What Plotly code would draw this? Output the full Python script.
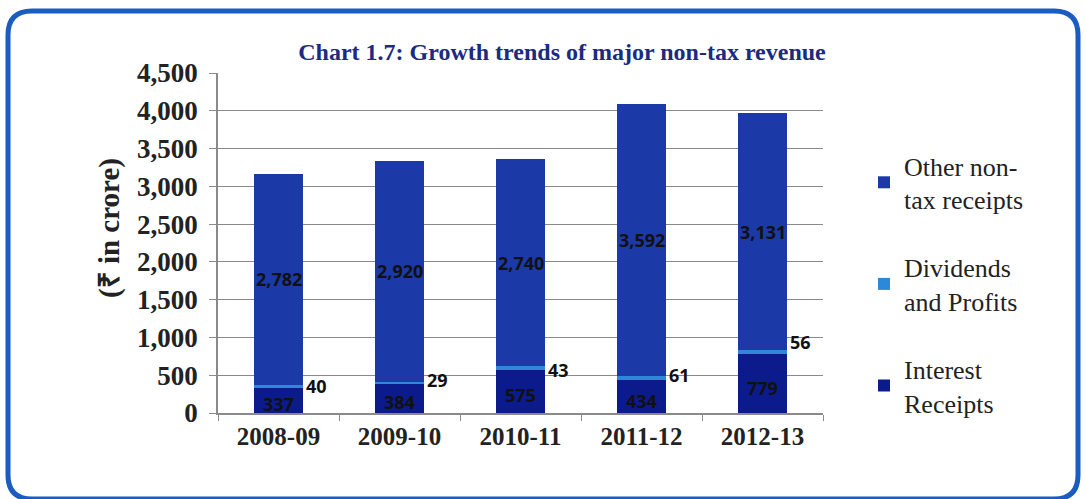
import plotly.graph_objects as go

years = ["2008-09", "2009-10", "2010-11", "2011-12", "2012-13"]
interest = [337, 384, 575, 434, 779]
dividends = [40, 29, 43, 61, 56]
other = [2782, 2920, 2740, 3592, 3131]

W, H = 1086, 499
L, R, T, B = 218, 263, 73, 86

serif = "Liberation Serif, Times New Roman, serif"
sans = "Open Sans, Lato, sans-serif"
label_font = dict(family=sans, size=18, color="#111111", weight="bold")

fig = go.Figure()

fig.add_trace(go.Bar(
    x=years, y=interest, name="Interest<br>Receipts", legendgroup="a",
    legendrank=3, marker=dict(color="#0c1b8c", line=dict(width=0)),
))
fig.add_trace(go.Bar(
    x=years, y=dividends, name="Dividends<br>and Profits", legendgroup="b",
    legendrank=2, marker=dict(color="#2d88d8", line=dict(width=0)),
))
fig.add_trace(go.Bar(
    x=years, y=other, name="Other non-<br>tax receipts", legendgroup="c",
    legendrank=1, marker=dict(color="#1b3aa8", line=dict(width=0)),
))

# value labels: centred in the interest and other segments,
# dividends just right of the bar (small nudges as in the original)
div_nudge = [0, 3, -2, 3, 10]
for k, yr in enumerate(years):
    i, d, o = interest[k], dividends[k], other[k]
    fig.add_annotation(x=yr, y=i / 2, text=f"{i:,}", showarrow=False,
                       yshift=-4, font=label_font)
    fig.add_annotation(x=yr, y=i + d + o / 2, text=f"{o:,}", showarrow=False,
                       font=label_font)
    fig.add_annotation(x=yr, y=i + d / 2, text=str(d), showarrow=False,
                       xanchor="left", xshift=25, yshift=div_nudge[k],
                       font=label_font)


def px(x):
    return (x - L) / (W - L - R)


def py(y):
    return 1 - (y - T) / (H - T - B)


# y-axis title, placed by hand since it sits above the plot centre
fig.add_annotation(
    x=px(110), y=py(228), xref="paper", yref="paper",
    text="(₹ in crore)", textangle=-90, showarrow=False,
    xanchor="center", yanchor="middle",
    font=dict(family=serif, size=29, color="#222222", weight="bold"),
)

# rounded blue frame around the whole chart
x0, x1, y0, y1, r = 8, 1078, 11, 499, 24
path = (
    f"M {px(x0 + r)},{py(y0)} L {px(x1 - r)},{py(y0)} "
    f"Q {px(x1)},{py(y0)} {px(x1)},{py(y0 + r)} "
    f"L {px(x1)},{py(y1 - r)} Q {px(x1)},{py(y1)} {px(x1 - r)},{py(y1)} "
    f"L {px(x0 + r)},{py(y1)} Q {px(x0)},{py(y1)} {px(x0)},{py(y1 - r)} "
    f"L {px(x0)},{py(y0 + r)} Q {px(x0)},{py(y0)} {px(x0 + r)},{py(y0)} Z"
)
fig.add_shape(type="path", path=path, xref="paper", yref="paper",
              line=dict(color="#1a5cbf", width=5), layer="below")

fig.update_layout(
    width=W, height=H,
    margin=dict(l=L, r=R, t=T, b=B),
    barmode="stack", bargap=0.6,
    plot_bgcolor="white", paper_bgcolor="white",
    title=dict(
        text="Chart 1.7: Growth trends of major non-tax revenue",
        x=562 / W, xanchor="center", y=1 - 52 / H, yanchor="middle",
        font=dict(family=serif, size=24, color="#1c2a80", weight="bold"),
    ),
    legend=dict(
        x=px(864), xanchor="left", y=py(142), yanchor="top",
        traceorder="grouped", tracegroupgap=31,
        font=dict(family=serif, size=26, color="#222222"),
        itemwidth=30, bgcolor="rgba(0,0,0,0)",
    ),
    showlegend=True,
)

fig.update_xaxes(
    type="category",
    showline=True, linecolor="#8a8a8a", linewidth=1.5,
    ticks="outside", tickson="boundaries", ticklen=6, tickcolor="#8a8a8a",
    tickfont=dict(family=serif, size=25, color="#222222", weight="bold"),
    showgrid=False,
)
fig.update_yaxes(
    range=[0, 4500], dtick=500, tickformat=",",
    showline=True, linecolor="#8a8a8a", linewidth=1.5,
    ticks="outside", ticklen=7, tickcolor="#8a8a8a", ticklabelstandoff=6,
    showgrid=True, gridcolor="#8a8a8a", gridwidth=1,
    tickfont=dict(family=serif, size=27, color="#222222", weight="bold"),
)

fig.write_html("out.html", config={"displayModeBar": False},
               post_script="document.body.style.margin='0';")
